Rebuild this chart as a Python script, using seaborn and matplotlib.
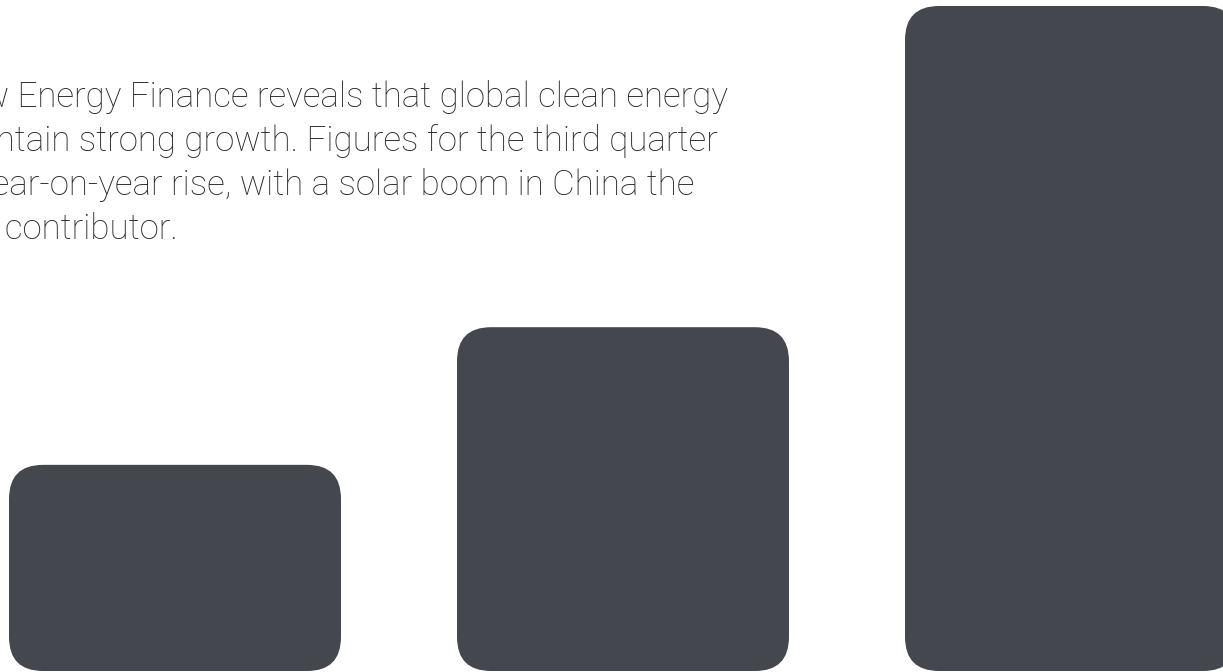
import matplotlib
matplotlib.use("Agg")
import matplotlib.pyplot as plt
from matplotlib.patches import FancyBboxPatch
import seaborn as sns
import pandas as pd

# Data (relative clean-energy investment)
categories = ["A", "B", "C"]
values = [3.1, 5.17, 10.0]

text_lines = [
    "Research from Bloomberg New Energy Finance reveals that global clean energy",
    "investment continues to maintain strong growth. Figures for the third quarter",
    "of 2015 show a 24% year-on-year rise, with a solar boom in China the",
    "biggest contributor.",
]
line_right_px = [728, 718, 694, 178]
line_base_px = [107, 151, 195, 239]

BAR_COLOR = "#44474e"
TEXT_COLOR = "#2a2a2a"
W, H = 1223, 672

sns.set_theme(style="white")
plt.rcParams["font.family"] = ["Roboto", "DejaVu Sans"]

fig = plt.figure(figsize=(W / 100, H / 100), dpi=100)
ax = fig.add_axes([0, 0, 1, 1])
df = pd.DataFrame({"cat": categories, "val": values})
sns.barplot(data=df, x="cat", y="val", ax=ax, color=BAR_COLOR, width=0.741,
            saturation=1)

# layout of axes: 448 px per category, first bar centred at 175 px
px_per_x = 448.0
x0 = -175 / px_per_x
ax.set_xlim(x0, x0 + W / px_per_x)
top_px, bottom_px = 6, 671
px_per_y = (bottom_px - top_px) / max(values)
ax.set_ylim(-(H - bottom_px) / px_per_y, max(values) + top_px / px_per_y)
ax.axis("off")

# rounded bars
radius_px = 34
aspect = px_per_x / px_per_y
for p in list(ax.patches):
    x, y = p.get_x(), p.get_y()
    w, h = p.get_width(), p.get_height()
    fb = FancyBboxPatch((x, y), w, h,
                        boxstyle=f"round,pad=0,rounding_size={radius_px / px_per_x}",
                        mutation_aspect=aspect, facecolor=BAR_COLOR,
                        edgecolor="none", clip_on=False)
    p.remove()
    ax.add_patch(fb)

# text, font size fitted to the visible width of the first line
renderer = fig.canvas.get_renderer()
probe = fig.text(0, 0, "Energy Finance reveals that global clean energy",
                 fontsize=20, fontweight="light")
wpx = probe.get_window_extent(renderer).width
probe.remove()
fs = 20 * 711 / wpx

for line, rx, by in zip(text_lines, line_right_px, line_base_px):
    fig.text(rx / W, 1 - by / H, line, ha="right", va="baseline",
             fontsize=fs, color=TEXT_COLOR, fontweight="light")

fig.savefig("out.png", dpi=100)
